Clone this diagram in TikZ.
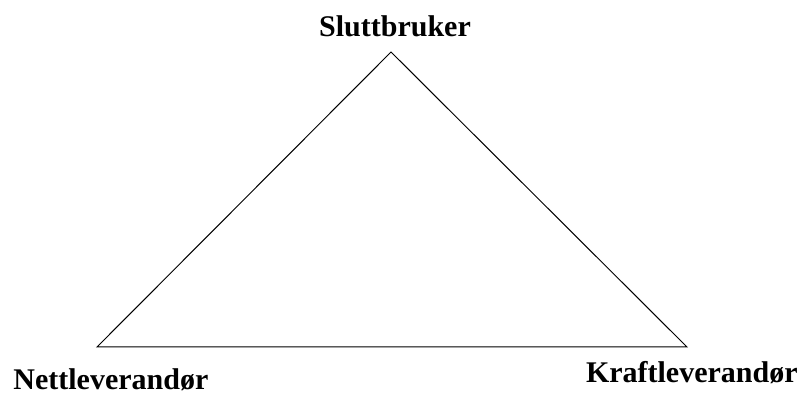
\documentclass[tikz,border=0pt]{standalone}
\usepackage{fontspec}
\setmainfont{Liberation Serif}
\usetikzlibrary{positioning}

\begin{document}
\begin{tikzpicture}[
      x=0.5pt, y=-0.5pt,
      role/.style={inner sep=0pt, font=\fontsize{15}{18}\selectfont\bfseries},
      edge/.style={draw, line width=0.5pt}
  ]
  \useasboundingbox (0,0) rectangle (802,394);

  % corners of the triangle
  \coordinate (user) at (391,52);
  \coordinate (grid) at (97,347);
  \coordinate (power) at (687,347);

  \node [role, anchor=base] (userlabel) at (395,37) {Sluttbruker};
  \node [role, anchor=base west] (gridlabel) at (13,390) {Nettleverandør};
  \node [role, anchor=base east] (powerlabel) at (798,383) {Kraftleverandør};

  \path [edge] (user) -- (grid) -- (power) -- cycle;

\end{tikzpicture}
\end{document}
